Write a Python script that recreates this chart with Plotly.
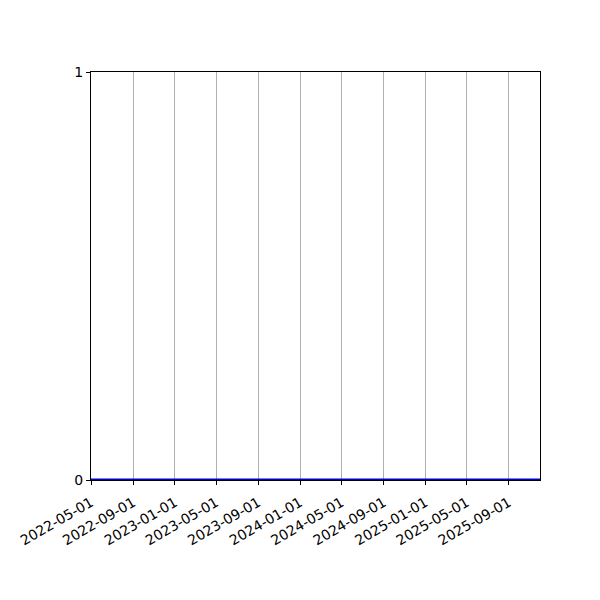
import plotly.graph_objects as go

# данные: ряд нулей по датам
dates = ["2022-05-01", "2025-12-01"]
values = [0, 0]

tick_dates = ["2022-05-01", "2022-09-01", "2023-01-01", "2023-05-01",
              "2023-09-01", "2024-01-01", "2024-05-01", "2024-09-01",
              "2025-01-01", "2025-05-01", "2025-09-01"]

fig = go.Figure()
fig.add_trace(go.Scatter(x=dates, y=values, mode='lines',
                         line=dict(color='#0000cc', width=3), showlegend=False))

# у страницы свой отступ 8px, поэтому поля меньше
fig.update_layout(
    width=600, height=600,
    margin=dict(l=83, r=68, t=64, b=128),
    plot_bgcolor='white', paper_bgcolor='white',
    font=dict(family='DejaVu Sans', size=14, color='black'),
    xaxis=dict(
        range=[dates[0], dates[-1]], automargin=False,
        tickvals=tick_dates, ticktext=tick_dates, tickangle=-30,
        ticklabelstandoff=4,
        showgrid=True, gridcolor='#b0b0b0', gridwidth=1,
        showline=True, linecolor='black', linewidth=1.3, mirror=True,
        ticks='outside', ticklen=4, tickcolor='black', zeroline=False,
        layer='below traces',
    ),
    yaxis=dict(
        range=[0, 1], tickvals=[0, 1], showgrid=False, automargin=False,
        showline=True, linecolor='black', linewidth=1.3, mirror=True,
        ticks='outside', ticklen=4, tickcolor='black', zeroline=False,
    ),
)

fig.write_html("out.html")
